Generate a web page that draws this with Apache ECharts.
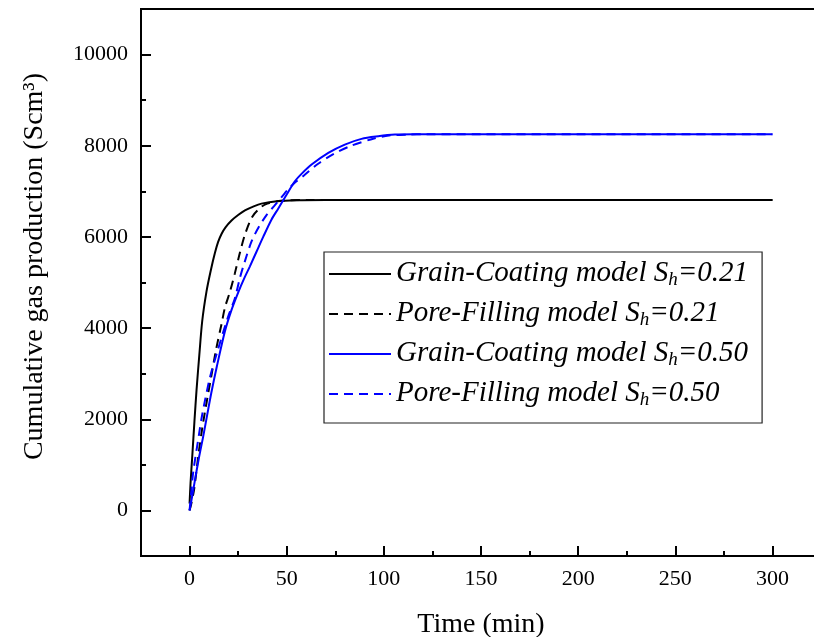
<!DOCTYPE html>
<html>
<head>
<meta charset="utf-8">
<title>Cumulative gas production</title>
<script src="https://cdn.jsdelivr.net/npm/echarts@6/dist/echarts.min.js"></script>
<style>
  html, body { margin: 0; padding: 0; background: #ffffff; }
  #chart { width: 814px; height: 637px; }
</style>
</head>
<body>
<div id="chart"></div>
<script>
// Time (min) and cumulative gas production (Scm3) for each model run
const gc021Time  = [0, 0.5, 1.4, 2.5, 3.6, 5, 6.5, 8.7, 11, 13, 14.7, 16.5, 18.5, 21.6, 25, 28.5, 33, 37, 45, 55, 70, 100, 150, 200, 250, 300];
const gc021Value = [150, 600, 1200, 1950, 2650, 3400, 4150, 4800, 5280, 5640, 5890, 6070, 6210, 6360, 6480, 6580, 6670, 6730, 6785, 6805, 6810, 6810, 6810, 6810, 6810, 6810];

const pf021Time  = [0, 1, 2.4, 4.5, 6.5, 9.3, 11, 13.5, 16.5, 18.2, 20.8, 23.3, 25.9, 28.5, 32.4, 37, 40, 45, 50, 60, 100, 150, 200, 250, 300];
const pf021Value = [0, 170, 480, 1200, 1800, 2500, 2900, 3500, 4100, 4450, 4800, 5200, 5650, 6050, 6450, 6660, 6730, 6780, 6800, 6810, 6810, 6810, 6810, 6810, 6810];

const gc050Time  = [0, 1, 2.5, 4.8, 7, 9, 11.2, 14, 18.2, 21.6, 25, 28, 31, 34.5, 37.9, 42.2, 45.6, 50, 54.2, 58, 62.8, 71.4, 79.9, 88.5, 97.1, 105.7, 115, 150, 200, 250, 300];
const gc050Value = [0, 230, 600, 1150, 1620, 2080, 2580, 3150, 3930, 4400, 4780, 5080, 5350, 5680, 6000, 6382, 6620, 6930, 7222, 7400, 7588, 7844, 8026, 8151, 8208, 8245, 8252, 8252, 8252, 8252, 8252];

const pf050Time  = [0, 1, 1.9, 4.8, 6.5, 10.4, 14.4, 19.9, 23.3, 25.9, 28.5, 31.9, 35.4, 39.6, 43.6, 47.5, 51.1, 55, 59, 66, 74, 82.5, 94.9, 102.6, 112, 122, 150, 200, 250, 300];
const pf050Value = [0, 450, 850, 1650, 2100, 2900, 3500, 4260, 4650, 5100, 5470, 5900, 6200, 6480, 6680, 6880, 7061, 7220, 7353, 7600, 7814, 7989, 8158, 8224, 8245, 8252, 8252, 8252, 8252, 8252];

const seriesNames = [
  'Grain-Coating model Sh=0.21',
  'Pore-Filling model Sh=0.21',
  'Grain-Coating model Sh=0.50',
  'Pore-Filling model Sh=0.50'
];
const legendRich = {
  'Grain-Coating model Sh=0.21': '{t|Grain-Coating model S}{s|h}{t|=0.21}',
  'Pore-Filling model Sh=0.21':  '{t|Pore-Filling model S}{s|h}{t|=0.21}',
  'Grain-Coating model Sh=0.50': '{t|Grain-Coating model S}{s|h}{t|=0.50}',
  'Pore-Filling model Sh=0.50':  '{t|Pore-Filling model S}{s|h}{t|=0.50}'
};

// Axis ranges and tick positions
const xRange = [-25, 325];
const xMajor = [0, 50, 100, 150, 200, 250, 300];
const xMinor = [25, 75, 125, 175, 225, 275];
const yRange = [-1000, 11000];
const yMajor = [0, 2000, 4000, 6000, 8000, 10000];
const yMinor = [1000, 3000, 5000, 7000, 9000];

function pairs(ts, vs) {
  return ts.map((t, i) => [t, vs[i]]);
}

const serif = 'Liberation Serif, Times New Roman, serif';

function lineSeries(name, data, color, dashed) {
  return {
    name: name,
    type: 'line',
    xAxisIndex: 0,
    yAxisIndex: 0,
    data: data,
    showSymbol: false,
    symbol: 'none',
    smooth: 0.3,
    lineStyle: { color: color, width: 2, type: dashed ? [9, 6] : 'solid' },
    itemStyle: { color: color },
    animation: false
  };
}

function minorAxis(base, ticks, len) {
  return Object.assign({}, base, {
    axisLine: { show: false, onZero: false },
    axisLabel: { show: false },
    splitLine: { show: false },
    axisTick: { show: true, inside: true, length: len, customValues: ticks, lineStyle: { color: '#000', width: 2 } }
  });
}

const xBase = { type: 'value', gridIndex: 0, position: 'bottom', min: xRange[0], max: xRange[1] };
const yBase = { type: 'value', gridIndex: 0, position: 'left', min: yRange[0], max: yRange[1] };
const plain = function (v) { return String(v); };

const chart = echarts.init(document.getElementById('chart'), null, { renderer: 'canvas' });

chart.setOption({
  backgroundColor: '#ffffff',
  animation: false,
  grid: {
    left: 141, top: 9, bottom: 81, right: -7,
    outerBoundsMode: 'none',
    containLabel: false,
    show: true, borderColor: '#000', borderWidth: 2, backgroundColor: 'transparent'
  },
  legend: {
    orient: 'vertical',
    left: 324,
    top: 252,
    padding: [7, 14, 9, 4],
    itemWidth: 62,
    itemHeight: 14,
    itemGap: 5,
    borderColor: '#222',
    borderWidth: 1.2,
    itemStyle: { opacity: 0 },
    data: seriesNames,
    formatter: function (name) { return legendRich[name]; },
    textStyle: {
      color: '#000',
      rich: {
        t: { fontFamily: serif, fontStyle: 'italic', fontSize: 29, color: '#000', lineHeight: 30, padding: [0, 0, 6, 0], verticalAlign: 'top' },
        s: { fontFamily: serif, fontStyle: 'italic', fontSize: 19, color: '#000', lineHeight: 19, verticalAlign: 'bottom' }
      }
    }
  },
  xAxis: [
    Object.assign({}, xBase, {
      name: 'Time (min)',
      nameLocation: 'middle',
      nameGap: 55,
      nameTextStyle: { fontFamily: serif, fontSize: 28, color: '#000' },
      axisLine: { show: true, onZero: false, lineStyle: { color: '#000', width: 2 } },
      axisTick: { show: true, inside: true, length: 10, customValues: xMajor, lineStyle: { color: '#000', width: 2 } },
      splitLine: { show: false },
      axisLabel: { fontFamily: serif, fontSize: 22, color: '#000', margin: 12, customValues: xMajor, formatter: plain }
    }),
    minorAxis(xBase, xMinor, 5)
  ],
  yAxis: [
    Object.assign({}, yBase, {
      name: 'Cumulative gas production (Scm\u00B3)',
      nameLocation: 'middle',
      nameGap: 92,
      nameRotate: 90,
      nameTextStyle: { fontFamily: serif, fontSize: 28, color: '#000', padding: [0, 0, 0, 32] },
      axisLine: { show: true, onZero: false, lineStyle: { color: '#000', width: 2 } },
      axisTick: { show: true, inside: true, length: 10, customValues: yMajor, lineStyle: { color: '#000', width: 2 } },
      splitLine: { show: false },
      axisLabel: { fontFamily: serif, fontSize: 22, color: '#000', margin: 13, customValues: yMajor, formatter: plain }
    }),
    minorAxis(yBase, yMinor, 5)
  ],
  series: [
    lineSeries(seriesNames[0], pairs(gc021Time, gc021Value), '#000000', false),
    lineSeries(seriesNames[1], pairs(pf021Time, pf021Value), '#000000', true),
    lineSeries(seriesNames[2], pairs(gc050Time, gc050Value), '#0000ff', false),
    lineSeries(seriesNames[3], pairs(pf050Time, pf050Value), '#0000ff', true)
  ]
});
</script>
</body>
</html>
